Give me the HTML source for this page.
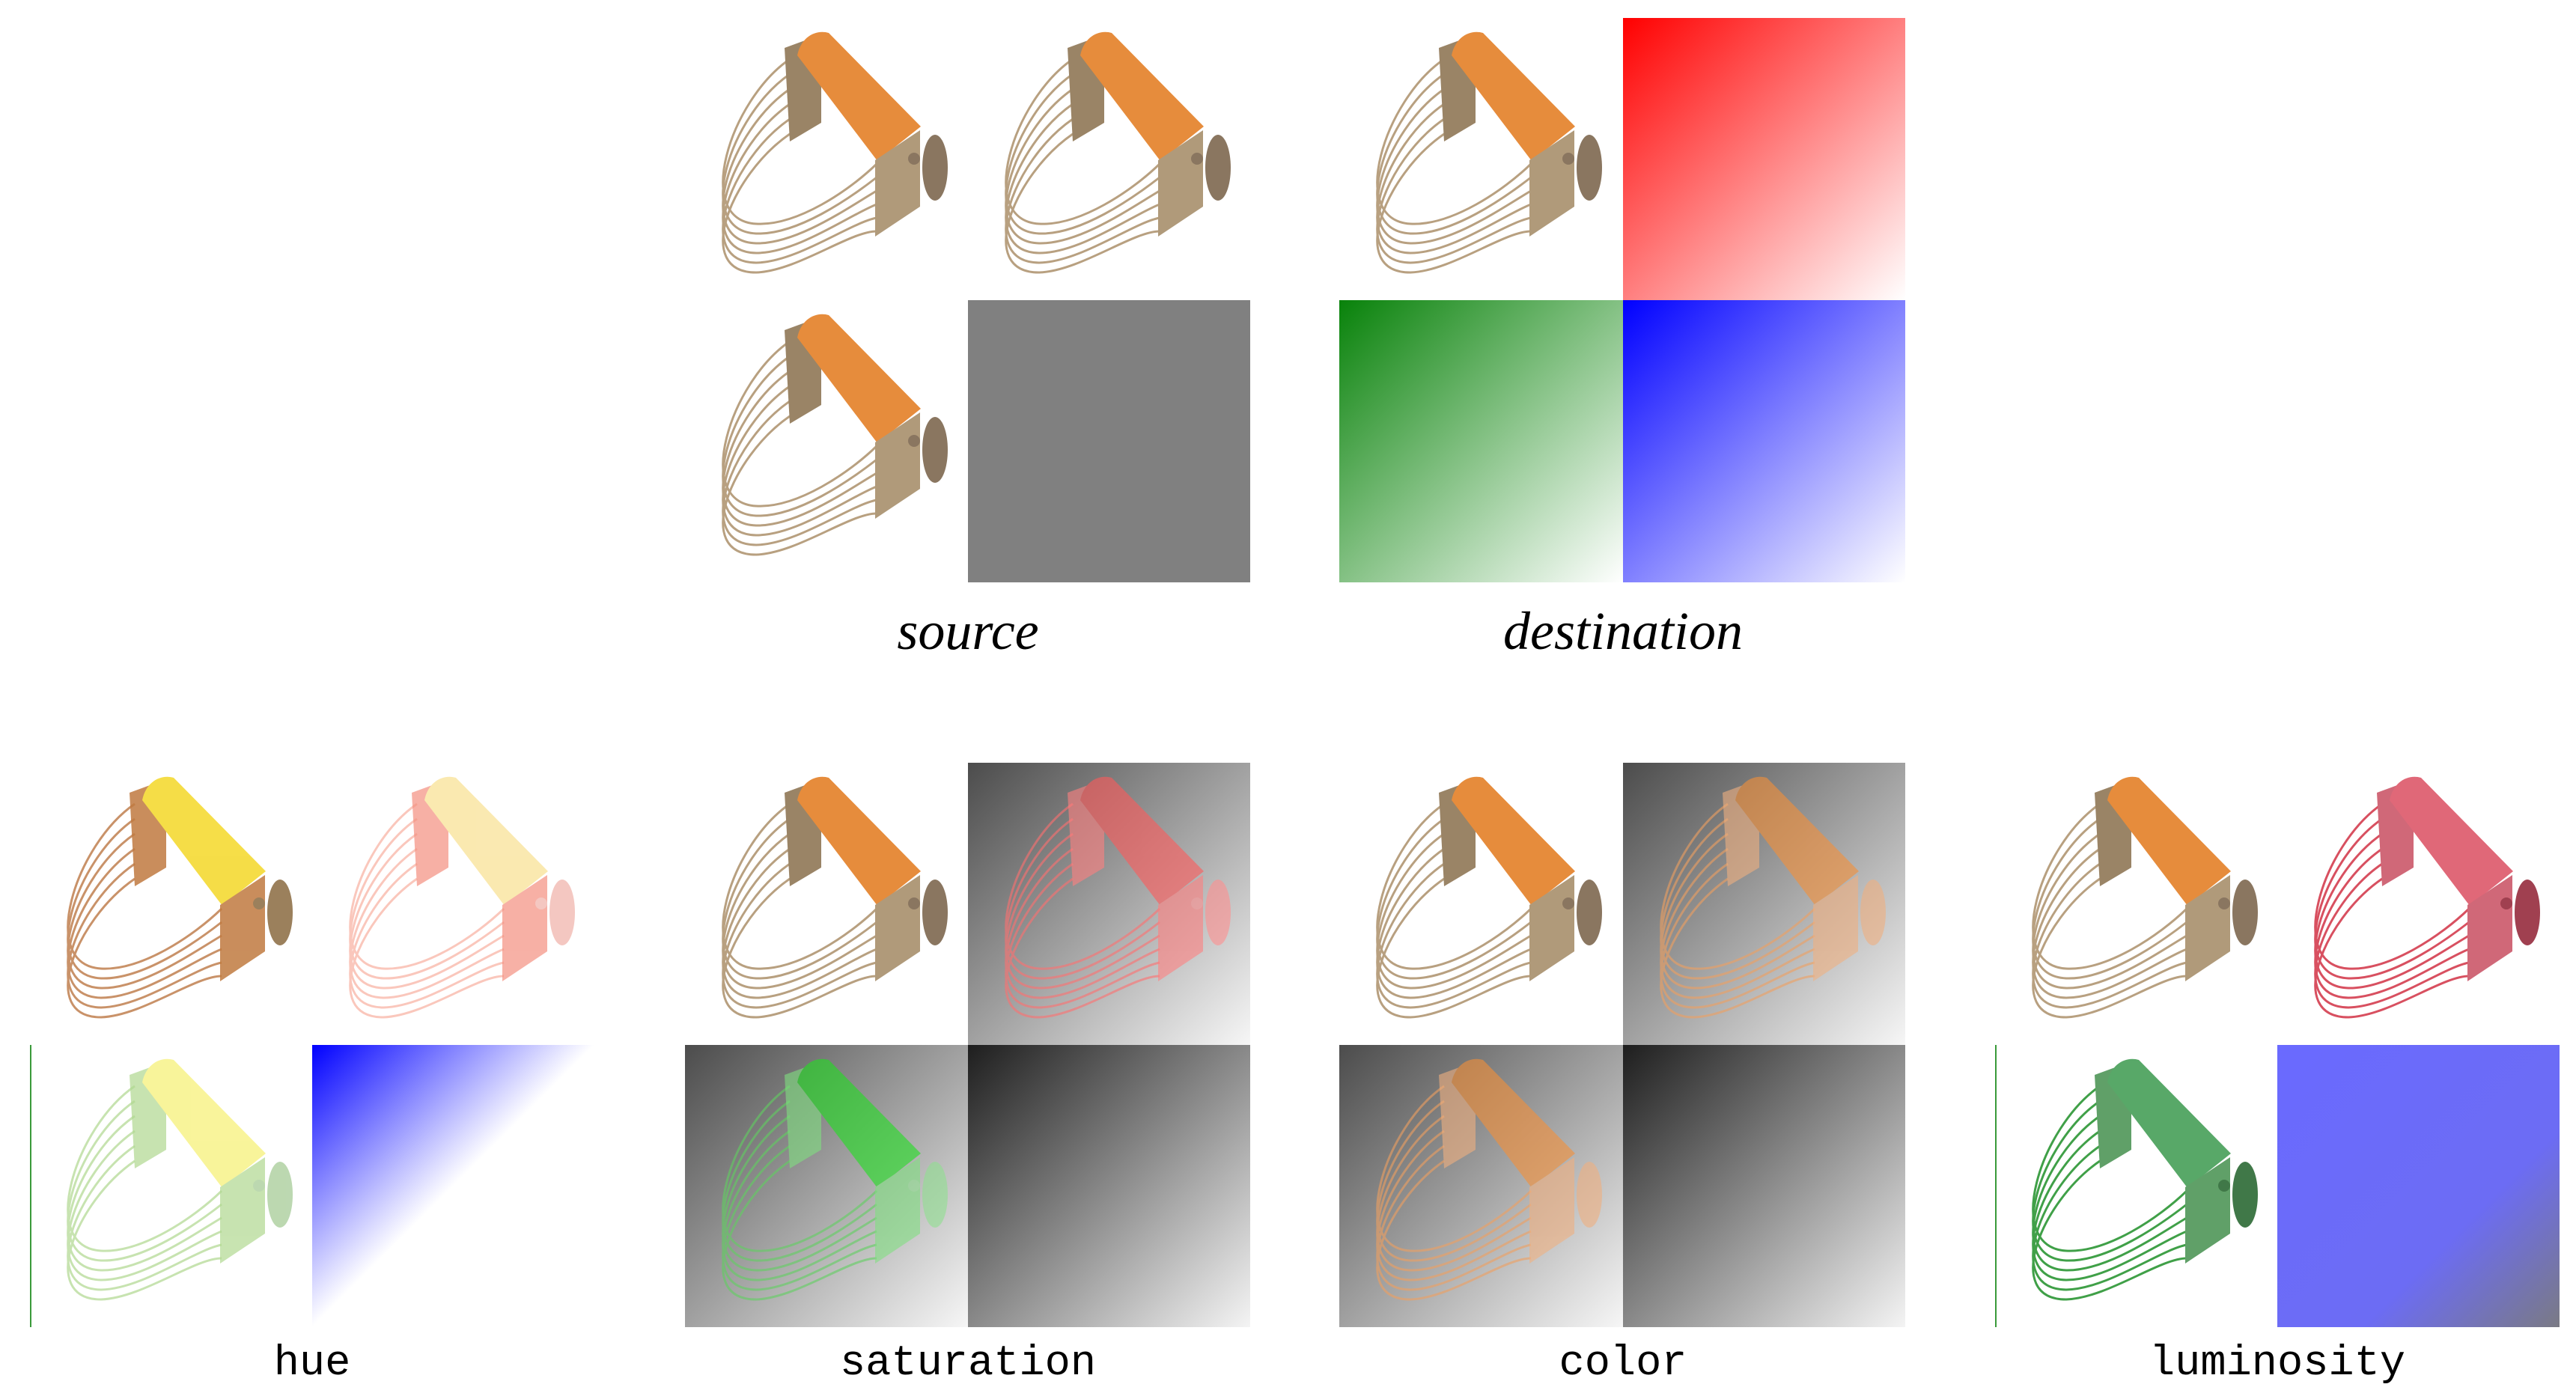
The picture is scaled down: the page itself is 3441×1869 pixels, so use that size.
<!DOCTYPE html>
<html><head><meta charset="utf-8"><style>
html,body{margin:0;padding:0;background:#fff}
svg{display:block}
.lbl-i{font-family:"Liberation Serif",serif;font-style:italic;font-size:72px;fill:#000}
.lbl-m{font-family:"Liberation Mono",monospace;font-size:57px;fill:#000}
</style></head><body>
<svg width="3441" height="1869" viewBox="0 0 3441 1869" xmlns="http://www.w3.org/2000/svg">
<defs>
<linearGradient id="gRed" x1="0" y1="0" x2="1" y2="1"><stop offset="0" stop-color="#ff0000"/><stop offset="0.5" stop-color="#ff7f7f"/><stop offset="1" stop-color="#ffffff"/></linearGradient>
<linearGradient id="gGreen" x1="0" y1="0" x2="1" y2="1"><stop offset="0" stop-color="#08820a"/><stop offset="0.5" stop-color="#84c184"/><stop offset="1" stop-color="#ffffff"/></linearGradient>
<linearGradient id="gBlue" x1="0" y1="0" x2="1" y2="1"><stop offset="0" stop-color="#0000ff"/><stop offset="0.5" stop-color="#8080ff"/><stop offset="1" stop-color="#ffffff"/></linearGradient>
<linearGradient id="gHueBlue" x1="0" y1="0" x2="1" y2="1"><stop offset="0" stop-color="#0000ff"/><stop offset="0.5" stop-color="#ffffff"/><stop offset="1" stop-color="#ffffff"/></linearGradient>
<linearGradient id="gGray1" x1="0" y1="0" x2="1" y2="1"><stop offset="0" stop-color="#4c4c4c"/><stop offset="1" stop-color="#f6f6f6"/></linearGradient>
<linearGradient id="gGray2" x1="0" y1="0" x2="1" y2="1"><stop offset="0" stop-color="#1e1e1e"/><stop offset="1" stop-color="#f4f4f4"/></linearGradient>
<linearGradient id="gLum" x1="0" y1="0" x2="1" y2="1"><stop offset="0" stop-color="#6a6aff"/><stop offset="0.65" stop-color="#6c6cf4"/><stop offset="1" stop-color="#7a7a84"/></linearGradient>
<symbol id="cutter" viewBox="0 0 377 377">
  <g fill="none" stroke="var(--w,#b8a080)" stroke-width="3" opacity="var(--o,1)">
    <path d="M140 55 C60 110,10 270,95 275 C150 278,220 230,256 195"/>
    <path d="M140 75 C60 130,10 284,95 288 C150 290,220 241,256 213"/>
    <path d="M140 95 C60 150,10 298,95 301 C150 302,220 252,256 231"/>
    <path d="M140 115 C60 170,10 312,95 314 C150 314,220 263,256 249"/>
    <path d="M140 135 C60 190,10 326,95 327 C150 326,220 274,256 267"/>
    <path d="M140 155 C60 210,10 340,95 340 C150 338,220 285,256 285"/>
  </g>
  <g opacity="var(--o,1)">
    <polygon points="133,40 182,22 182,140 140,165" fill="var(--m,#9a8466)"/>
    <path d="M150,50 C155,25 175,15 192,20 L315,145 L257,191 Z" fill="var(--h1,#e68c3c)"/>
    <polygon points="254,190 314,150 314,252 254,292" fill="var(--m,#b09a7a)"/>
    <ellipse cx="334" cy="200" rx="17" ry="44" fill="var(--m2,#8a7660)"/>
    <circle cx="306" cy="188" r="8" fill="var(--m2,#8a7660)"/>
  </g>
</symbol>
</defs>

<g>
<use href="#cutter" x="915" y="24" width="377" height="377"/>
<use href="#cutter" x="1293" y="24" width="377" height="377"/>
<use href="#cutter" x="915" y="401" width="377" height="377"/>
<rect x="1293" y="401" width="377" height="377" fill="#808080"/>
<text x="1293" y="867" text-anchor="middle" class="lbl-i">source</text>
</g>

<g>
<use href="#cutter" x="1789" y="24" width="377" height="377"/>
<rect x="2168" y="24" width="377" height="377" fill="url(#gRed)"/>
<rect x="1789" y="401" width="379" height="377" fill="url(#gGreen)"/>
<rect x="2168" y="401" width="377" height="377" fill="url(#gBlue)"/>
<text x="2168" y="867" text-anchor="middle" class="lbl-i">destination</text>
</g>

<g>
<use href="#cutter" x="40" y="1019" width="377" height="377" style="--h1:#f4d828;--m:#c07a40;--m2:#8a6a40;--w:#c08050;--o:0.85"/>
<use href="#cutter" x="417" y="1019" width="377" height="377" style="--h1:#f8e090;--m:#f49080;--m2:#f0b0a8;--w:#f8b0a0;--o:0.7"/>
<line x1="41" y1="1396" x2="41" y2="1773" stroke="#3a9a3a" stroke-width="2"/>
<use href="#cutter" x="40" y="1396" width="377" height="377" style="--h1:#f6f070;--m:#b0d890;--m2:#a0c890;--w:#b0d890;--o:0.7"/>
<rect x="417" y="1396" width="377" height="377" fill="url(#gHueBlue)"/>
<text x="417" y="1836" text-anchor="middle" class="lbl-m">hue</text>
</g>

<g>
<use href="#cutter" x="915" y="1019" width="377" height="377"/>
<rect x="1293" y="1019" width="377" height="377" fill="url(#gGray1)"/>
<use href="#cutter" x="1293" y="1019" width="377" height="377" style="--h1:#ff5a5a;--m:#ff8080;--m2:#ff9090;--w:#ff7070;--o:0.6"/>
<rect x="915" y="1396" width="378" height="377" fill="url(#gGray1)"/>
<use href="#cutter" x="915" y="1396" width="377" height="377" style="--h1:#20e020;--m:#80e080;--m2:#90e090;--w:#60d060;--o:0.6"/>
<rect x="1293" y="1396" width="377" height="377" fill="url(#gGray2)"/>
<text x="1293" y="1836" text-anchor="middle" class="lbl-m">saturation</text>
</g>

<g>
<use href="#cutter" x="1789" y="1019" width="377" height="377"/>
<rect x="2168" y="1019" width="377" height="377" fill="url(#gGray1)"/>
<use href="#cutter" x="2168" y="1019" width="377" height="377" style="--h1:#f59038;--m:#f0b080;--m2:#f0b080;--w:#f0a060;--o:0.6"/>
<rect x="1789" y="1396" width="379" height="377" fill="url(#gGray1)"/>
<use href="#cutter" x="1789" y="1396" width="377" height="377" style="--h1:#f59038;--m:#f0b080;--m2:#f0b080;--w:#f0a060;--o:0.6"/>
<rect x="2168" y="1396" width="377" height="377" fill="url(#gGray2)"/>
<text x="2168" y="1836" text-anchor="middle" class="lbl-m">color</text>
</g>

<g>
<use href="#cutter" x="2665" y="1019" width="377" height="377"/>
<use href="#cutter" x="3042" y="1019" width="377" height="377" style="--h1:#e06878;--m:#d06878;--m2:#a04050;--w:#d85060"/>
<line x1="2666" y1="1396" x2="2666" y2="1773" stroke="#3a9a3a" stroke-width="2"/>
<use href="#cutter" x="2665" y="1396" width="377" height="377" style="--h1:#58a868;--m:#60a068;--m2:#407848;--w:#40a048"/>
<rect x="3042" y="1396" width="377" height="377" fill="url(#gLum)"/>
<text x="3042" y="1836" text-anchor="middle" class="lbl-m">luminosity</text>
</g>
</svg>
</body></html>
